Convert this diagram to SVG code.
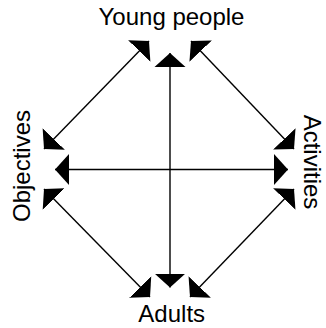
<svg xmlns="http://www.w3.org/2000/svg" width="326" height="328" viewBox="0 0 326 328">
  <style>
    .lbl { font-family: "Liberation Sans", Arial, sans-serif; font-size: 24px; fill: #000; text-anchor: middle; }
    .conn { stroke: #000; stroke-width: 1.4; fill: none; marker-start: url(#ah); marker-end: url(#ah); }
  </style>
  <defs>
    <marker id="ah" viewBox="0 -16 14 32" refX="14" refY="0" markerWidth="14" markerHeight="32" markerUnits="userSpaceOnUse" orient="auto-start-reverse">
      <path d="M0,-15.5 L14,0 L0,15.5 Z" fill="#000"/>
    </marker>
  </defs>
  <rect width="326" height="328" fill="#fff"/>
  <g id="connectors">
    <line class="conn" x1="44" y1="149" x2="149" y2="41"/>
    <line class="conn" x1="191" y1="41" x2="294" y2="149"/>
    <line class="conn" x1="44" y1="189" x2="150" y2="297"/>
    <line class="conn" x1="190" y1="297" x2="294" y2="189"/>
    <line class="conn" x1="170" y1="53" x2="170" y2="287.5"/>
    <line class="conn" x1="55" y1="169.5" x2="288" y2="169.5"/>
  </g>
  <g id="young-people">
    <text class="lbl" x="171.5" y="24.5">Young people</text>
  </g>
  <g id="adults">
    <text class="lbl" x="171.7" y="322">Adults</text>
  </g>
  <g id="objectives">
    <text class="lbl" transform="translate(29.5,166) rotate(-90)">Objectives</text>
  </g>
  <g id="activities">
    <text class="lbl" transform="translate(304,162) rotate(90)">Activities</text>
  </g>
</svg>
